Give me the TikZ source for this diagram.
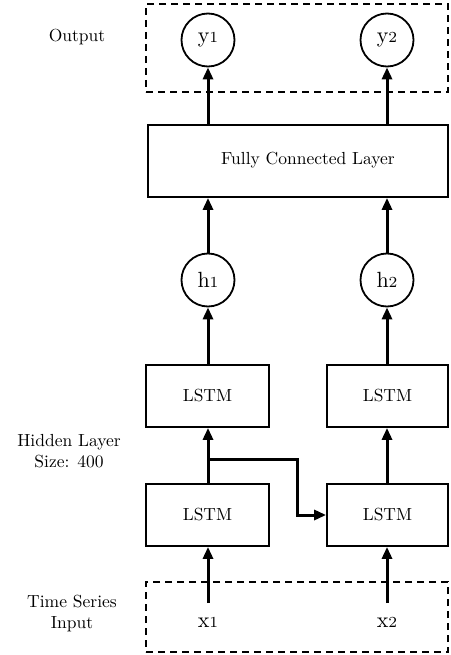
\documentclass[tikz,border=0pt]{standalone}
\usepackage{graphicx}
\usetikzlibrary{arrows.meta}

% text is set at 10pt and enlarged, so the letter shapes stay those of the 10pt design
\newcommand{\txt}[1]{\scalebox{1.75}{#1}}
\newcommand{\twolines}[2]{\scalebox{1.75}{\begin{tabular}{@{}c@{}}#1\\#2\end{tabular}}}
% variable names: a larger letter followed by a small index on the baseline
\newcommand{\var}[2]{\scalebox{2.2}{#1{\fontsize{7}{7}\selectfont #2}}}

\begin{document}
\begin{tikzpicture}[x=1pt,y=-1pt,
  every node/.style={font=\fontsize{10}{12}\selectfont},
  layerbox/.style={draw,line width=1.8pt,rectangle,inner sep=0pt},
  unit/.style={draw,line width=1.8pt,circle,minimum size=53pt,inner sep=0pt},
  region/.style={draw,line width=1.8pt,dash pattern=on 7pt off 5pt,rectangle,inner sep=0pt},
  arr/.style={line width=3pt,-{Triangle[length=12pt,width=10pt]}},
  label/.style={align=center,inner sep=0pt}
]
\useasboundingbox (0,0) rectangle (450,655);

% dashed regions for output and input
\node[region,minimum width=302pt,minimum height=88pt] (outregion) at (297,48) {};
\node[region,minimum width=302pt,minimum height=70pt] (inregion) at (297,617) {};

% output units
\node[unit] (y1) at (208,40) {\var{y}{1}};
\node[unit] (y2) at (387,40) {\var{y}{2}};

% dense layer, its caption sits a little right of centre
\node[layerbox,minimum width=300pt,minimum height=72pt] (fc) at (298,161) {};
\node[inner sep=0pt] (fctext) at (308,160) {\txt{Fully Connected Layer}};

% hidden states
\node[unit] (h1) at (208,280) {\var{h}{1}};
\node[unit] (h2) at (387,280) {\var{h}{2}};

% stacked LSTM cells
\node[layerbox,minimum width=123pt,minimum height=62pt] (lstmA2) at (207.5,396) {\txt{LSTM}};
\node[layerbox,minimum width=121pt,minimum height=62pt] (lstmB2) at (387.5,396) {\txt{LSTM}};
\node[layerbox,minimum width=123pt,minimum height=62pt] (lstmA1) at (207.5,515) {\txt{LSTM}};
\node[layerbox,minimum width=121pt,minimum height=62pt] (lstmB1) at (387.5,515) {\txt{LSTM}};

% inputs
\node[inner sep=0pt] (x1) at (208,622) {\var{x}{1}};
\node[inner sep=0pt] (x2) at (387,622) {\var{x}{2}};
\coordinate (in1) at (208,603);
\coordinate (in2) at (387,603);
\coordinate (split) at (208,459);

% side labels
\node[label] (outlabel) at (77,37) {\txt{Output}};
\node[label] (hidlabel) at (69,453) {\twolines{Hidden Layer}{Size: 400}};
\node[label] (inlabel) at (72,614) {\twolines{Time Series}{Input}};

% connections
\draw[arr] (in1) -- (lstmA1.south -| in1);
\draw[arr] (in2) -- (lstmB1.south -| in2);
\draw[arr] (lstmA1.north -| split) -- (lstmA2.south -| split);
\draw[arr] (split) -- ++(89,0) |- (lstmB1.west);
\draw[arr] (lstmB1.north -| in2) -- (lstmB2.south -| in2);
\draw[arr] (lstmA2.north -| h1) -- (h1.south);
\draw[arr] (lstmB2.north -| h2) -- (h2.south);
\draw[arr] (h1.north) -- (fc.south -| h1);
\draw[arr] (h2.north) -- (fc.south -| h2);
\draw[arr] (fc.north -| y1) -- (y1.south);
\draw[arr] (fc.north -| y2) -- (y2.south);
\end{tikzpicture}
\end{document}
